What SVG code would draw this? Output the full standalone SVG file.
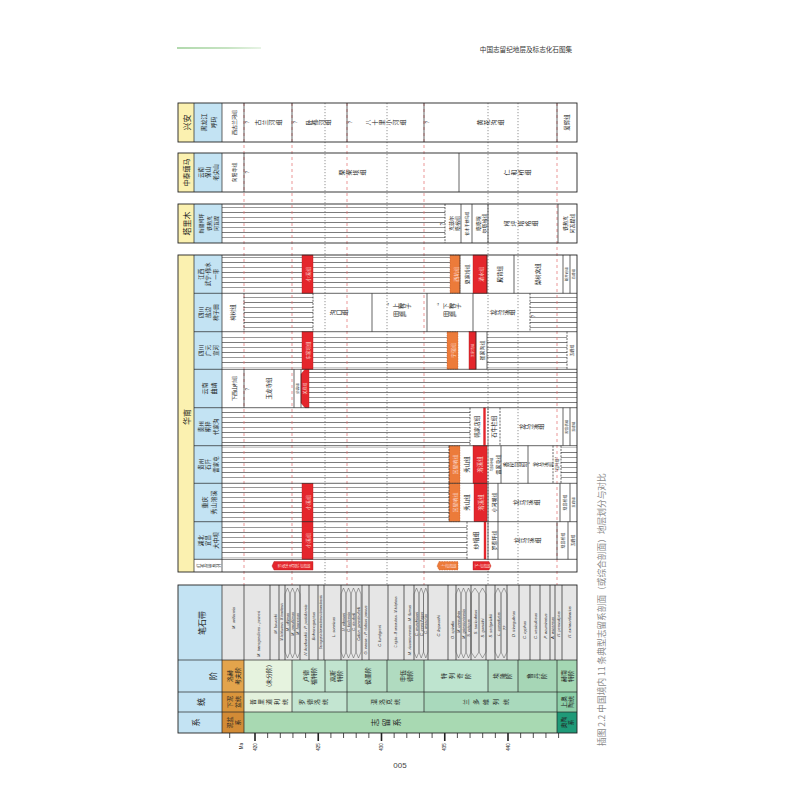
<svg xmlns="http://www.w3.org/2000/svg" width="800" height="800" viewBox="0 0 800 800">
<defs>
<pattern id="hatch" patternUnits="userSpaceOnUse" width="10" height="10">
<line x1="0" y1="2.5" x2="10" y2="2.5" stroke="#222" stroke-width="0.6"/>
<line x1="0" y1="7.5" x2="10" y2="7.5" stroke="#999" stroke-width="1"/>
</pattern>
<linearGradient id="gl" x1="0" x2="1"><stop offset="0" stop-color="#9fd09a"/><stop offset="0.6" stop-color="#b9ddb4"/><stop offset="1" stop-color="#e2f1df"/></linearGradient>
</defs>
<style>
.ln{stroke:#222;stroke-width:0.7;fill:none}
.dl{stroke:#222;stroke-width:0.7;stroke-dasharray:2 1.2;fill:none}
.gr{stroke:#e36a6a;stroke-width:0.7;stroke-dasharray:3 3;fill:none}
.gd{stroke:#666;stroke-width:0.7;stroke-dasharray:1.2 1.8;fill:none}
.bx{fill:none;stroke:#222;stroke-width:0.9}
.yl{fill:#fbf1b0}.bl{fill:#c3e3f3}
.rd{fill:#e4262c;stroke:#b01c1c;stroke-width:0.4}.or{fill:#ec7b3a;stroke:#b9532a;stroke-width:0.4;stroke-dasharray:1.5 1}
.t{font-family:"Noto Sans CJK SC","Noto Sans",sans-serif;fill:#222}
.w{fill:#fcd8cd}
.s8{font-size:8px}.s7{font-size:7px}.s6{font-size:6px}.s55{font-size:5.5px}.s5{font-size:5px}.s45{font-size:4.5px}.s4{font-size:4px}.s35{font-size:3.5px}
.g{font-family:"Liberation Sans",Arial,sans-serif;font-style:italic;font-size:4px;fill:#222}
.hx{fill:none;stroke:#555;stroke-width:0.5}
.q{font-family:"Liberation Sans",Arial,sans-serif;font-size:5px;fill:#222}
</style>
<rect width="800" height="800" fill="#fff"/>

<g id="header">
<rect x="177" y="47.2" width="84" height="1.6" fill="url(#gl)"/>
<text class="t" style="font-size:6.6px;fill:#333" x="526" y="52" text-anchor="middle">中国志留纪地层及标志化石图集</text>
</g>

<g id="hatches">
<rect x="222" y="206" width="223" height="35" fill="url(#hatch)"/>
<rect x="222" y="257" width="228" height="34.5" fill="url(#hatch)"/>
<rect x="244" y="295.5" width="69" height="34.5" fill="url(#hatch)"/>
<rect x="530" y="295.5" width="47" height="34.5" fill="url(#hatch)"/>
<rect x="222" y="333.5" width="225" height="34" fill="url(#hatch)"/>
<rect x="487" y="333.5" width="80" height="34" fill="url(#hatch)"/>
<rect x="309" y="371" width="268" height="35" fill="url(#hatch)"/>
<rect x="222" y="409.5" width="248" height="34.5" fill="url(#hatch)"/>
<rect x="222" y="447.5" width="227" height="34" fill="url(#hatch)"/>
<rect x="561" y="447.5" width="16" height="34" fill="url(#hatch)"/>
<rect x="222" y="485" width="227" height="35" fill="url(#hatch)"/>
<rect x="222" y="523.5" width="245" height="34" fill="url(#hatch)"/>
</g>

<g id="guides">
<path class="gr" d="M244 103V585M292 103V585M347 103V585M424 103V585M557 103V585"/>
<path class="gd" d="M325 103V585M387 103V585M488 103V585M518 103V585"/>
</g>

<g id="xingan">
<rect class="yl" x="178" y="103" width="16" height="39"/>
<rect class="bl" x="194" y="103" width="28" height="39"/>
<path class="ln" d="M194 103V142M222 103V142M244 103V142M292 103V142M347 103V142M424 103V142M557 103V142"/>
<rect class="bx" x="178" y="103" width="399" height="39"/>
<g transform="matrix(0 -1 1 0 0 800)" text-anchor="middle" dominant-baseline="central">
<text class="t s8" x="677.5" y="186">兴安</text>
<text class="t s6" x="677.5" y="203">黑龙江</text>
<text class="t s6" x="677.5" y="213">呼玛</text>
<text class="t s5" x="677.5" y="233">西古兰河组</text>
<text class="t s6" x="677.5 677.5 677.5 677.5" y="257.5 264.5 271.5 278.5">古兰河组</text>
<text class="t s6" x="677.5 677.5 677.5 677.5" y="308.25 314.75 321.25 327.75">卧都河组</text>
<text class="t s6" x="677.5 677.5 677.5 677.5 677.5 677.5" y="367.5 374.5 381.5 388.5 395.5 402.5">八十里小河组</text>
<text class="t s6" x="677.5 677.5 677.5 677.5" y="479.5 486.5 493.5 500.5">黄花沟组</text>
<text class="t s55" x="677.5" y="567">爱辉组</text>
<text class="q" x="678" y="247">?</text>
<text class="q" x="678" y="295">?</text>
<text class="q" x="678" y="350">?</text>
<text class="q" x="678" y="427">?</text>
</g>
</g>

<g id="zhongtai">
<rect class="yl" x="178" y="153" width="16" height="39"/>
<rect class="bl" x="194" y="153" width="28" height="39"/>
<path class="ln" d="M194 153V192M222 153V192M244 153V192M459 153V192"/>
<rect class="bx" x="178" y="153" width="399" height="39"/>
<g transform="matrix(0 -1 1 0 0 800)" text-anchor="middle" dominant-baseline="central">
<text class="t s7" x="627.5" y="186">中泰缅马</text>
<text class="t s55" x="627.5" y="200.5">云南</text>
<text class="t s55" x="627.5" y="208">保山</text>
<text class="t s55" x="627.5" y="215.5">老尖山</text>
<text class="t s5" x="627.5" y="233">向阳寺组</text>
<text class="q" x="628" y="247">?</text>
<text class="t s6" x="627.5 627.5 627.5 627.5" y="341.5 348.5 355.5 362.5">栗柴坝组</text>
<text class="t s6" x="627.5 627.5 627.5 627.5" y="506.5 513.5 520.5 527.5">仁和桥组</text>
</g>
</g>

<g id="tarim">
<rect class="yl" x="178" y="204" width="16" height="39"/>
<rect class="bl" x="194" y="204" width="28" height="39"/>
<path class="ln" d="M194 204V243M222 204V243M461 204V243M472 204V243M488 204V243M558 204V243"/>
<path class="dl" d="M445 204V243"/>
<rect class="bx" x="178" y="204" width="399" height="39"/>
<g transform="matrix(0 -1 1 0 0 800)" text-anchor="middle" dominant-baseline="central">
<text class="t s8" x="576.5" y="186">塔里木</text>
<text class="t s5" x="576.5" y="200.5">新疆柯坪</text>
<text class="t s5" x="576.5" y="208">铁热克</text>
<text class="t s5" x="576.5" y="215.5">阿瓦提</text>
<text class="q" x="576" y="442">?</text>
<text class="t s5" x="576.5" y="450">克兹尔</text>
<text class="t s5" x="576.5" y="456.5">塔格组</text>
<text class="t s4" x="576.5" y="466.5">依木干他乌组</text>
<text class="t s5" x="576.5" y="477">塔塔埃</text>
<text class="t s5" x="576.5" y="483.5">尔塔格组</text>
<text class="t s6" x="576.5 576.5 576.5 576.5 576.5" y="506 513 520 527 534">柯坪塔格组</text>
<text class="t s5" x="576.5" y="564.5">铁热克</text>
<text class="t s5" x="576.5" y="571">阿瓦提组</text>
</g>
</g>

<g id="huanan">
<rect class="yl" x="178" y="255" width="16" height="317"/>
<rect class="bl" x="194" y="255" width="28" height="304.3"/>

<g id="r-jiangxi">
<rect class="rd" x="302" y="255" width="11" height="38.3"/>
<rect class="or" x="450" y="255" width="10" height="38.3"/>
<rect class="rd" x="473" y="255" width="14" height="38.3"/>
<path class="ln" d="M460 255V293.3M487 255V293.3M514 255V293.3M563 255V293.3M570 255V293.3"/>
</g>
<g id="r-yanbian">
<path class="dl" d="M244 293.3V331.7M313 293.3V331.7M530 293.3V331.7"/>
<path class="ln" d="M372 293.3V331.7M427 293.3V331.7M473 293.3V331.7"/>
</g>
<g id="r-guangyuan">
<rect class="rd" x="302" y="331.7" width="11" height="37.6"/>
<rect class="or" x="447" y="331.7" width="11" height="37.6"/>
<rect class="rd" x="469" y="331.7" width="7" height="37.6"/>
<path class="ln" d="M476 331.7V369.3M487 331.7V369.3"/>
<path class="dl" d="M567 331.7V369.3"/>
</g>
<g id="r-qujing">
<path class="rd" d="M301 374L305 369.3H309V407.7H305L301 403Z"/>
<path class="ln" d="M244 369.3V407.7M294 369.3V407.7M301 369.3V407.7"/>
</g>
<g id="r-tongzi">
<rect x="483.3" y="407.7" width="2.4" height="38" fill="#e4262c"/>
<path class="dl" d="M470 407.7V445.7M488 407.7V445.7M500 407.7V445.7"/>
<path class="ln" d="M563 407.7V445.7M570 407.7V445.7"/>
</g>
<g id="r-shiqian">
<rect class="or" x="449" y="445.7" width="11" height="37.6"/>
<rect class="rd" x="473" y="445.7" width="14" height="37.6"/>
<path class="dl" d="M449 445.7V483.3M488 445.7V483.3M553 445.7V483.3M561 445.7V483.3"/>
<path class="ln" d="M501 445.7V483.3M528 445.7V483.3"/>
</g>
<g id="r-xiushan">
<rect class="rd" x="302" y="483.3" width="11" height="38.4"/>
<rect class="or" x="449" y="483.3" width="11" height="38.4"/>
<rect class="rd" x="474" y="483.3" width="13" height="38.4"/>
<path class="dl" d="M449 483.3V521.7"/>
<path class="ln" d="M488 483.3V521.7M498 483.3V521.7M560 483.3V521.7M570 483.3V521.7"/>
</g>
<g id="r-yichang">
<rect class="rd" x="302" y="521.7" width="11" height="37.6"/>
<rect x="483.8" y="521.7" width="2.4" height="37.6" fill="#e4262c"/>
<path class="dl" d="M467 521.7V559.3"/>
<path class="ln" d="M488 521.7V559.3M498 521.7V559.3M557 521.7V559.3M568 521.7V559.3"/>
</g>
<g id="r-redbeds">
<path class="rd" d="M274 561.5H313V570H274L272 566Z"/>
<path class="or" d="M439 561.5H458V570H439L437 566Z"/>
<path class="rd" d="M473 561.5H489L491 566L489 570H473Z"/>
</g>

<path class="ln" d="M194 255V572M222 255V572M194 293.3H577M194 331.7H577M194 369.3H577M194 407.7H577M194 445.7H577M194 483.3H577M194 521.7H577M194 559.3H577"/>
<rect class="bx" x="178" y="255" width="399" height="317"/>

<g id="huanan-labels" transform="matrix(0 -1 1 0 0 800)" text-anchor="middle" dominant-baseline="central">
<text class="t s8" x="383" y="186">华南</text>
<!-- Jiangxi -->
<text class="t s55" x="525.8" y="200.5">江西</text>
<text class="t s55" x="525.8" y="208">武宁-修水</text>
<text class="t s55" x="525.8" y="215.5">一带</text>
<text class="t s5 w" x="525.8" y="307.5">小溪组</text>
<text class="t s5 w" x="525.8" y="455">西坑组</text>
<text class="t s5" x="525.8" y="466.5">夏家桥组</text>
<text class="t s5 w" x="525.8" y="480">清水组</text>
<text class="t s55" x="525.8" y="500">殿背组</text>
<text class="t s55" x="525.8" y="538">梨树窝组</text>
<text class="t s35" x="525.8" y="566.5">新开岭组</text>
<text class="t s35" x="525.8" y="573.5">五峰组</text>
<!-- Yanbian -->
<text class="t s55" x="487.5" y="200.5">四川</text>
<text class="t s55" x="487.5" y="208">盐边</text>
<text class="t s55" x="487.5" y="215.5">稗子田</text>
<text class="t s55" x="487.5" y="233">梅树组</text>
<text class="t s6" x="487.5 487.5 487.5" y="332 338 344">沟口组</text>
<text class="t s6" x="494 494 494 494" y="389 395 401 407">“上稗子</text>
<text class="t s6" x="486 486 486" y="395 401 407">田组”</text>
<text class="t s6" x="494 494 494 494" y="439 445 451 457">“下稗子</text>
<text class="t s6" x="486 486 486" y="445 451 457">田组”</text>
<text class="t s6" x="487.5 487.5 487.5 487.5" y="492.25 498.75 505.25 511.75">龙马溪组</text>
<text class="q" x="484" y="533">?</text>
<!-- Guangyuan -->
<text class="t s55" x="449.5" y="200.5">四川</text>
<text class="t s55" x="449.5" y="208">广元</text>
<text class="t s55" x="449.5" y="215.5">宣河</text>
<text class="t s45 w" x="449.5" y="307.5">车家坝组</text>
<text class="t s5 w" x="449.5" y="452.5">宁强组</text>
<text class="t s35 w" x="449.5" y="472.5">王家湾组</text>
<text class="t s5" x="449.5" y="481.5">崔家沟组</text>
<text class="t s4" x="449.5" y="572">五峰组</text>
<!-- Qujing -->
<text class="t s6" x="411.5" y="204">云南</text>
<text class="t s6" x="411.5" y="213">曲靖</text>
<text class="t s5" x="411.5" y="233">下西山村组</text>
<text class="q" x="411" y="247">?</text>
<text class="t s55" x="411.5" y="269">玉龙寺组</text>
<text class="t s35" x="411.5" y="297.5">妙高组</text>
<text class="t s4 w" x="411.5" y="305">关底组</text>
<!-- Tongzi -->
<text class="t s55" x="373.3" y="200.5">贵州</text>
<text class="t s55" x="373.3" y="208">桐梓</text>
<text class="t s55" x="373.3" y="215.5">代家沟</text>
<text class="t s55" x="373.3" y="476.5">韩家店组</text>
<text class="t s55" x="373.3" y="494">石牛栏组</text>
<text class="t s6" x="373.3 373.3 373.3 373.3" y="521.25 527.75 534.25 540.75">龙马溪组</text>
<text class="t s35" x="373.3" y="566.5">观音桥组</text>
<text class="t s35" x="373.3" y="573.5">五峰组</text>
<!-- Shiqian -->
<text class="t s55" x="335.5" y="200.5">贵州</text>
<text class="t s55" x="335.5" y="208">石阡</text>
<text class="t s55" x="335.5" y="215.5">雷家屯</text>
<text class="t s5 w" x="335.5" y="454.5">回星哨组</text>
<text class="t s55" x="335.5" y="466.5">秀山组</text>
<text class="t s55 w" x="335.5" y="480">溶溪组</text>
<text class="t s35" x="335.5" y="491">马脚冲组</text>
<text class="t s5" x="335.5" y="497">雷家屯组</text>
<text class="t s55" x="335.5 335.5 335.5 335.5" y="505.5 511.5 517.5 523.5">香树园组</text>
<text class="t s5" x="335.5 335.5 335.5 335.5 335.5 335.5" y="529.5 534 539 544 549 553">“龙马溪组”</text>
<text class="t s4" x="335.5" y="557">“石阡组”</text>
<!-- Xiushan -->
<text class="t s6" x="297.5" y="204">重庆</text>
<text class="t s6" x="297.5" y="213">秀山溶溪</text>
<text class="t s5 w" x="297.5" y="307.5">小溪组</text>
<text class="t s5 w" x="297.5" y="454.5">回星哨组</text>
<text class="t s55" x="297.5" y="467">秀山组</text>
<text class="t s55 w" x="297.5" y="480.5">溶溪组</text>
<text class="t s5" x="297.5" y="493">小河坝组</text>
<text class="t s6" x="297.5 297.5 297.5 297.5" y="515.5 522.5 529.5 536.5">龙马溪组</text>
<text class="t s4" x="297.5" y="565">观音桥组</text>
<text class="t s35" x="297.5" y="573.5">五峰组</text>
<!-- Yichang -->
<text class="t s55" x="259.5" y="200.5">湖北</text>
<text class="t s55" x="259.5" y="208">宜昌</text>
<text class="t s55" x="259.5" y="215.5">大中坝</text>
<text class="t s5 w" x="259.5" y="307.5">小溪组</text>
<text class="t s6" x="259.5" y="475">纱帽组</text>
<text class="t s5" x="259.5" y="493">罗惹坪组</text>
<text class="t s6" x="259.5 259.5 259.5 259.5" y="516.5 523.5 530.5 537.5">龙马溪组</text>
<text class="t s4" x="259.5" y="562.5">观音桥组</text>
<text class="t s4" x="259.5" y="572.5">五峰组</text>
<!-- red beds -->
<text class="t" style="font-size:4.2px" x="234.3 234.3 234.3 234.3 234.3" y="198 203 208 213 218">红色层系列</text>
<text class="t w" style="font-size:4.5px" x="234.3 234.3 234.3 234.3 234.3 234.3" y="279.5 285 290.5 296 301.5 307">罗德洛统红层</text>
<text class="t w" style="font-size:4.5px" x="234.3 234.3 234.3" y="442.5 447.5 452.5">上红层</text>
<text class="t w" style="font-size:4.5px" x="234.3 234.3 234.3" y="477 482 487">下红层</text>
</g>
</g>

<g id="scale">
<rect class="bl" x="178" y="585" width="44" height="148"/>
<rect x="222" y="585" width="355" height="75" fill="#e6e6e6"/>
<g id="stages">
<rect x="222" y="660" width="22" height="32" fill="#e3a44c"/>
<rect x="244" y="660" width="48" height="32" fill="#e6f3df"/>
<rect x="292" y="660" width="33" height="32" fill="#c6e7d2"/>
<rect x="325" y="660" width="22" height="32" fill="#c1e4cf"/>
<rect x="347" y="660" width="40" height="32" fill="#b8dfc7"/>
<rect x="387" y="660" width="37" height="32" fill="#b0dbc0"/>
<rect x="424" y="660" width="64" height="32" fill="#bee4cf"/>
<rect x="488" y="660" width="30" height="32" fill="#b1dbc1"/>
<rect x="518" y="660" width="39" height="32" fill="#a6d6b6"/>
<rect x="557" y="660" width="20" height="32" fill="#a4d7b3"/>
</g>
<g id="series">
<rect x="222" y="692" width="22" height="20" fill="#d9953c"/>
<rect x="244" y="692" width="48" height="20" fill="#e3f1dc"/>
<rect x="292" y="692" width="55" height="20" fill="#c3e5d1"/>
<rect x="347" y="692" width="77" height="20" fill="#b5dec5"/>
<rect x="424" y="692" width="133" height="20" fill="#a9d9bc"/>
<rect x="557" y="692" width="20" height="20" fill="#8ccfa8"/>
</g>
<g id="systems">
<rect x="222" y="712" width="22" height="21" fill="#d28b36"/>
<rect x="244" y="712" width="313" height="21" fill="#a8d9b2"/>
<rect x="557" y="712" width="20" height="21" fill="#1f9a78"/>
</g>

<g id="zones">
<path class="ln" d="M244 585V660M270 585V660M279 585V660M285 585V660M300 585V660M309 585V660M318 585V660M324 585V660M341 585V660M362 585V660M369 585V660M388 585V660M404 585V660M414 585V660M428 585V660M448 585V660M456 585V660M471 585V660M486 585V660M495 585V660M507 585V660M519 585V660M530 585V660M540 585V660M550 585V660M555 585V660M562 585V660"/>
<path class="hx" d="M285 594L287.5 588L290 594V652L287.5 658L285 652ZM290 594L292.5 588L295 594V652L292.5 658L290 652ZM295 594L297.5 588L300 594V652L297.5 658L295 652Z"/>
<path class="hx" d="M341 594L343.5 588L346 594V652L343.5 658L341 652ZM346 594L348.5 588L351 594V652L348.5 658L346 652ZM351 594L353.5 588L356 594V652L353.5 658L351 652ZM356 594L358.5 588L361 594V652L358.5 658L356 652Z"/>
<path class="hx" d="M414 594L416.5 588L419 594V652L416.5 658L414 652ZM419 594L421.2 588L423.5 594V652L421.2 658L419 652ZM423.5 594L425.8 588L428 594V652L425.8 658L423.5 652Z"/>
<path class="hx" d="M456 594L458.5 588L461 594V652L458.5 658L456 652ZM461 594L463.5 588L466 594V652L463.5 658L461 652ZM466 594L468.5 588L471 594V652L468.5 658L466 652Z"/>
<path class="hx" d="M471 594L475 588L479 594V652L475 658L471 652ZM479 594L482.5 588L486 594V652L482.5 658L479 652Z"/>
<path class="hx" d="M495 594L498 588L501 594V652L498 658L495 652ZM501 594L504 588L507 594V652L504 658L501 652Z"/>
<g transform="matrix(0 -1 1 0 0 800)" text-anchor="middle" dominant-baseline="central">
<text class="g" x="182" y="233">M. uniformis</text>
<text class="g" x="166" y="258">M. transgrediens - perneri</text>
<text class="g" x="176" y="275">M. bouceki</text>
<text class="g" style="font-size:2.6px" x="178" y="282">M. lochkovensis - M. branikensis</text>
<text class="g" x="178" y="287.5">M. ultimus</text>
<text class="g" x="176" y="292.5">M. parultimus</text>
<text class="g" x="176" y="297.5">M. formosus</text>
<text class="g" x="170" y="305">N. kozlowskii - P. podoliensis</text>
<text class="g" x="174" y="313.5">Bohemograptus</text>
<text class="g" style="font-size:2.6px" x="178" y="321">Saetograptus leintwardinensis leintwardinensis</text>
<text class="g" x="173" y="333">L. scanicus</text>
<text class="g" x="178" y="343.5">N. nilssoni</text>
<text class="g" x="178" y="348.5">C. ludensis</text>
<text class="g" x="178" y="353.5">C. deubeli</text>
<text class="g" x="176" y="358.5">Colon. praedeubeli</text>
<text class="g" x="170" y="365.5">G. nassa - P. dubius parvus</text>
<text class="g" x="164" y="379">C. lundgreni</text>
<text class="g" style="font-size:2.6px" x="178" y="396">C. rigidus - M. antennularius - M. belophorus</text>
<text class="g" x="170" y="409">M. riccartonensis - M. firmus</text>
<text class="g" x="176" y="416.5">C. murchisoni</text>
<text class="g" x="176" y="421.2">C. centrifugus</text>
<text class="g" x="176" y="425.8">C. insectus</text>
<text class="g" x="174" y="438">C. lapworthi</text>
<text class="g" x="170" y="452">O. spiralis</text>
<text class="g" x="178" y="458.5">M. crenulata</text>
<text class="g" x="176" y="463.5">M. griestoniensis</text>
<text class="g" x="172" y="468.5">S. crispus</text>
<text class="g" x="178" y="475">S. turriculatus</text>
<text class="g" x="172" y="482.5">S. guerichi</text>
<text class="g" x="174" y="490.5">S. sedgwickii</text>
<text class="g" x="176" y="498">L. convolutus</text>
<text class="g" x="172" y="504">??</text>
<text class="g" x="176" y="513">D. triangulatus</text>
<text class="g" x="170" y="524.5">C. cyphus</text>
<text class="g" x="174" y="535">C. vesiculosus</text>
<text class="g" x="174" y="545">P. acuminatus</text>
<text class="g" x="172" y="552.5">A. ascensus</text>
<text class="g" x="176" y="558.5">N. persculptus</text>
<text class="g" x="178" y="569.5">N. extraordinarius</text>
</g>
</g>

<path class="ln" d="M222 585V733M178 660H577M178 692H577M178 712H577M292 660V712M325 660V692M347 660V712M387 660V692M424 660V712M488 660V692M518 660V692M244 660V733M557 660V733"/>
<rect class="bx" x="178" y="585" width="399" height="148"/>

<g transform="matrix(0 -1 1 0 0 800)" text-anchor="middle" dominant-baseline="central">
<text class="t s8" x="177" y="201">笔石带</text>
<text class="t s8" x="124" y="212">阶</text>
<text class="t s8" x="98" y="200">统</text>
<text class="t s8" x="77.5" y="195">系</text>

<text class="t s6" x="124" y="229.5">洛赫</text>
<text class="t s6" x="124" y="237">考夫阶</text>
<text class="t s6" x="124" y="268">(未分阶)</text>
<text class="t s6" x="124" y="305">卢德</text>
<text class="t s6" x="124" y="313">福特阶</text>
<text class="t s6" x="124" y="332.5">高斯</text>
<text class="t s6" x="124" y="339.5">特阶</text>
<text class="t s6" x="124" y="367">侯墨阶</text>
<text class="t s6" x="124" y="402">申伍</text>
<text class="t s6" x="124" y="409.5">德阶</text>
<text class="t s6" x="124 124 124 124" y="443 451 459 467">特列奇阶</text>
<text class="t s6" x="124 124 124" y="495.5 502 508.5">埃隆阶</text>
<text class="t s6" x="124 124 124" y="529 536 543">鲁丹阶</text>
<text class="t s6" x="124" y="563.5">赫南</text>
<text class="t s6" x="124" y="570.5">特阶</text>

<text class="t s6" x="98" y="229.5">下泥</text>
<text class="t s6" x="98" y="237">盆统</text>
<text class="t s6" x="98 98 98 98 98" y="252 260 268 276 284">普里道利统</text>
<text class="t s6" x="98 98 98 98" y="301.75 309.25 316.75 324.25">罗德洛统</text>
<text class="t s6" x="98 98 98 98" y="373.75 381.25 388.75 396.25">温洛克统</text>
<text class="t s6" x="98 98 98 98 98" y="465 475 485 495 505">兰多维列统</text>
<text class="t s6" x="98" y="563.5">上奥</text>
<text class="t s6" x="98" y="570.5">陶统</text>

<text class="t s6" x="77.5" y="229.5">泥盆</text>
<text class="t s6" x="77.5" y="237">系</text>
<text class="t s8" x="77.5 77.5 77.5" y="374 385 396">志留系</text>
<text class="t s6" x="77.5" y="563.5">奥陶</text>
<text class="t s6" x="77.5" y="570.5">系</text>
</g>
</g>

<g id="ma-axis">
<path stroke="#222" stroke-width="0.8" fill="none" d="M229.7 733v5M267.65 733v5M280.3 733v5M292.95 733v5M305.6 733v5M330.9 733v5M343.55 733v5M356.2 733v5M368.85 733v5M394.15 733v5M406.8 733v5M419.45 733v5M432.1 733v5M457.4 733v5M470.05 733v5M482.7 733v5M495.35 733v5M520.65 733v5M533.3 733v5M545.95 733v5M558.6 733v5"/>
<path stroke="#222" stroke-width="1.6" fill="none" d="M255 733v8M318.25 733v8M381.5 733v8M444.75 733v8M508 733v8"/>
<g transform="matrix(0 -1 1 0 0 800)" text-anchor="middle" dominant-baseline="central">
<text class="q" style="font-size:4.5px" x="54" y="241">Ma</text>
<text class="q" style="font-size:4.5px" x="53" y="255">420</text>
<text class="q" style="font-size:4.5px" x="53" y="318.25">425</text>
<text class="q" style="font-size:4.5px" x="53" y="381.5">430</text>
<text class="q" style="font-size:4.5px" x="53" y="444.75">435</text>
<text class="q" style="font-size:4.5px" x="53" y="508">440</text>
</g>
</g>

<g id="caption">
<g transform="matrix(0 -1 1 0 0 800)">
<text style="font-family:'Noto Sans CJK SC',sans-serif;font-size:8.7px;fill:#8c8c8c" x="54" y="601" dominant-baseline="central">插图 2.2  中国境内 11 条典型志留系剖面（或综合剖面）地层划分与对比</text>
</g>
<text style="font-family:'Liberation Sans',sans-serif;font-size:8px;fill:#444" x="400" y="768" text-anchor="middle">005</text>
</g>
</svg>
